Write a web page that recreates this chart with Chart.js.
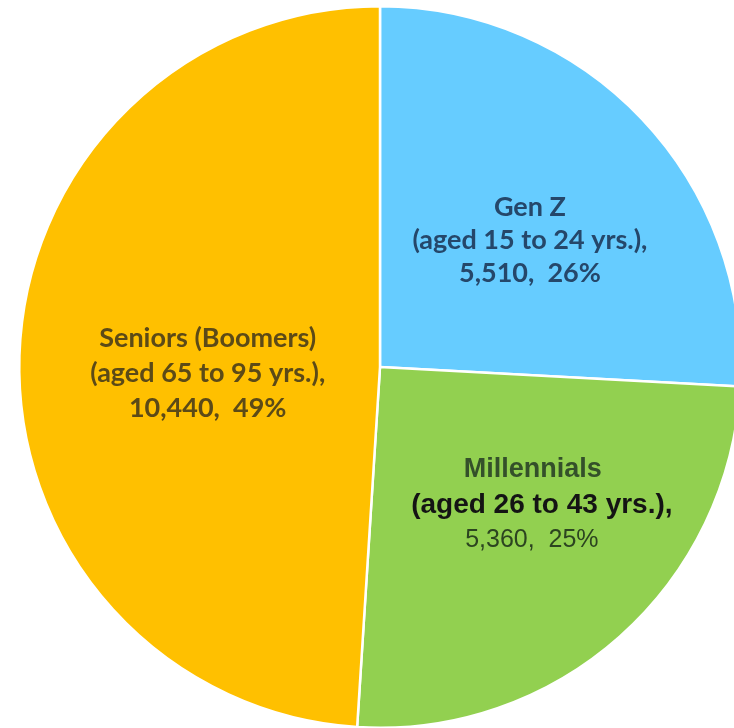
<!DOCTYPE html>
<html>
<head>
<meta charset="utf-8">
<script src="https://cdn.jsdelivr.net/npm/chart.js@4.4.1/dist/chart.umd.min.js"></script>
<style>
  html, body { margin: 0; padding: 0; background: #fff; overflow: hidden; }
  #wrap { position: absolute; left: 0; top: 0; width: 760px; height: 734px; }
</style>
</head>
<body>
<div id="wrap"><canvas id="pieChart"></canvas></div>
<script>
// chart data
const categories = ['Gen Z', 'Millennials', 'Seniors (Boomers)'];
const ageRanges = ['(aged 15 to 24 yrs.),', '(aged 26 to 43 yrs.),', '(aged 65 to 95 yrs.),'];
const counts = [5510, 5360, 10440];
const sliceColors = ['#66CCFF', '#92D050', '#FFC000'];

// label look, per slice
const textColors = ['#25476a', '#34502a', '#5c4a17'];
const labelNudge = [[19, -3], [37, 3], [8, 12]];
const lineGap = [33, 35, 35];

const total = counts.reduce((a, b) => a + b, 0);

const sliceLabels = {
    id: 'sliceLabels',
    afterDatasetsDraw(chart) {
        const ctx = chart.ctx;
        const meta = chart.getDatasetMeta(0);
        meta.data.forEach(function(arc, i) {
            const pos = arc.tooltipPosition();
            const x = pos.x + labelNudge[i][0];
            const y = pos.y + labelNudge[i][1];
            const pct = Math.round(counts[i] / total * 100);
            const lines = [
                categories[i],
                ageRanges[i],
                counts[i].toLocaleString('en-US') + ',  ' + pct + '%'
            ];
            ctx.save();
            ctx.textAlign = 'center';
            ctx.textBaseline = 'middle';
            lines.forEach(function(txt, j) {
                let dx = 0;
                // the millennials label was typed in another font in the original
                if (i === 1) {
                    if (j === 1) {
                        ctx.font = 'bold 28px "Liberation Sans", Arial, sans-serif';
                        ctx.fillStyle = '#141414';
                        dx = 5;
                    } else if (j === 0) {
                        ctx.font = 'bold 27px "Liberation Sans", Arial, sans-serif';
                        ctx.fillStyle = textColors[i];
                        dx = -4;
                    } else {
                        ctx.font = '25px "Liberation Sans", Arial, sans-serif';
                        ctx.fillStyle = '#2c4420';
                        dx = -5;
                    }
                } else {
                    ctx.font = 'bold 27px Lato, sans-serif';
                    ctx.fillStyle = textColors[i];
                }
                ctx.fillText(txt, x + dx, y + (j - 1) * lineGap[i]);
            });
            ctx.restore();
        });
    }
};

new Chart(document.getElementById('pieChart'), {
    type: 'pie',
    data: {
        labels: categories,
        datasets: [{
            data: counts,
            backgroundColor: sliceColors,
            borderColor: '#ffffff',
            borderWidth: 2.5
        }]
    },
    options: {
        responsive: true,
        maintainAspectRatio: false,
        animation: false,
        layout: { padding: 5 },
        plugins: {
            legend: { display: false },
            tooltip: { enabled: false }
        }
    },
    plugins: [sliceLabels]
});
</script>
</body>
</html>
